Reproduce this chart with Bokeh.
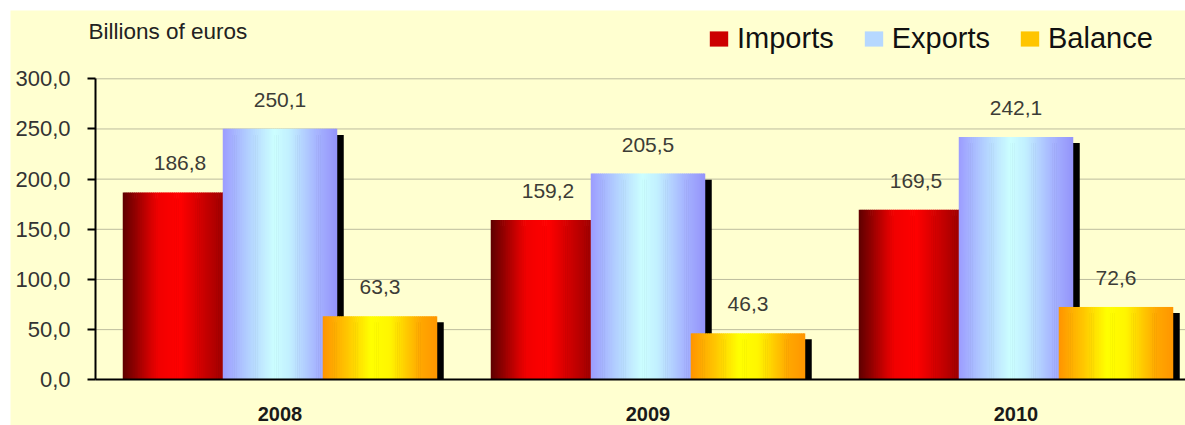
import numpy as np
from bokeh.plotting import figure
from bokeh.models import (Range1d, FixedTicker, ColumnDataSource, LabelSet,
                          Legend, LegendItem, Label)
from bokeh.core.properties import value
from bokeh.embed import file_html
from bokeh.resources import INLINE

# ---------------- data ----------------
years = ["2008", "2009", "2010"]
series_names = ["Imports", "Exports", "Balance"]
imports = [186.8, 159.2, 169.5]
exports = [250.1, 205.5, 242.1]
balance = [63.3, 46.3, 72.6]
y_ticks = [0, 50, 100, 150, 200, 250, 300]
y_tick_labels = ["0,0", "50,0", "100,0", "150,0", "200,0", "250,0", "300,0"]
unit_text = "Billions of euros"

# ---------------- style / layout ----------------
BG = "#FFFFD0"
ML, MT = 10, 10                  # white outer margin
FIG_W, FIG_H = 1185 - ML, 425 - MT
PX = 368.0                       # pixels per category
PY = 301.0 / 300.0               # pixels per unit
AXIS_X_PX, AXIS_Y_PX = 95, 379.3   # axis position in the picture
CAT0_PX = 279.5                  # centre of first category in the picture
BAR_W = 114.5 / PX
STEP = 100.0 / PX
SH_DX = 6.5 / PX
SH_DY = 6.0
N = 60

x_start = -(CAT0_PX - ML) / PX
x_end = x_start + FIG_W / PX
x_axis = -(CAT0_PX - AXIS_X_PX) / PX
y_start = -(425 - AXIS_Y_PX) / PY
y_end = y_start + FIG_H / PY

stops = {
    "Imports": [(0.0, "#5E0000"), (0.30, "#F00000"), (0.50, "#FF0000"),
                (0.87, "#A00000"), (1.0, "#900000")],
    "Exports": [(0.0, "#9C9CFF"), (0.22, "#B2D0FF"), (0.45, "#CCFFFF"),
                (0.58, "#C2F0FF"), (0.82, "#A6B4FF"), (1.0, "#9494FA")],
    "Balance": [(0.0, "#FF9400"), (0.22, "#FFC800"), (0.42, "#FFFF00"),
                (0.58, "#FFF600"), (0.85, "#FFA800"), (1.0, "#FF9600")],
}
legend_frac = {"Imports": 0.22, "Exports": 0.25, "Balance": 0.2}


def hex2rgb(h):
    h = h.lstrip("#")
    return np.array([int(h[i:i + 2], 16) for i in (0, 2, 4)], dtype=float)


def grad(st, t):
    for (t0, c0), (t1, c1) in zip(st[:-1], st[1:]):
        if t0 <= t <= t1:
            f = 0 if t1 == t0 else (t - t0) / (t1 - t0)
            c = hex2rgb(c0) * (1 - f) + hex2rgb(c1) * f
            return "#%02X%02X%02X" % tuple(int(round(v)) for v in c)
    return st[-1][1]


p = figure(width=FIG_W, height=FIG_H, x_range=Range1d(x_start, x_end),
           y_range=Range1d(y_start, y_end), output_backend="svg",
           toolbar_location=None, min_border_left=0, min_border_right=0,
           min_border_top=0, min_border_bottom=0,
           background_fill_color=BG, border_fill_color=BG)
p.margin = (MT, 0, 0, ML)
p.outline_line_color = None
p.xgrid.visible = False
p.ygrid.visible = False

# horizontal grid lines at the y ticks, from the axis to the right edge
gt = y_ticks[1:]
p.segment(x0=[x_axis] * len(gt), x1=[x_end] * len(gt), y0=gt, y1=gt,
          line_color="#BDBD9E", line_width=1)

series_vals = [imports, exports, balance]
renderers = {}
label_x, label_y, label_t = [], [], []
for si, (name, vals) in enumerate(zip(series_names, series_vals)):
    sh = dict(left=[], right=[], top=[], bottom=[])
    sl = dict(left=[], right=[], top=[], bottom=[], color=[])
    for ci, v in enumerate(vals):
        c = ci + (si - 1) * STEP
        l0 = c - BAR_W / 2
        sh["left"].append(l0 + SH_DX)
        sh["right"].append(l0 + BAR_W + SH_DX)
        sh["top"].append(v - SH_DY)
        sh["bottom"].append(0)
        dw = BAR_W / N
        for k in range(N):
            sl["left"].append(l0 + k * dw)
            sl["right"].append(l0 + (k + 1) * dw + (0.35 * dw if k < N - 1 else 0))
            sl["top"].append(v)
            sl["bottom"].append(0)
            sl["color"].append(grad(stops[name], (k + 0.5) / N))
        label_x.append(c)
        label_y.append(v)
        label_t.append(("%.1f" % v).replace(".", ","))
    p.quad(source=ColumnDataSource(sh), left="left", right="right", top="top",
           bottom="bottom", fill_color="#000000", line_color=None)
    renderers[name] = p.quad(source=ColumnDataSource(sl), left="left", right="right",
                             top="top", bottom="bottom", fill_color="color",
                             line_color=None)

# axes at fixed locations inside the frame
p.yaxis.fixed_location = x_axis
p.yaxis.bounds = (0, 300)
p.yaxis.ticker = FixedTicker(ticks=y_ticks)
p.yaxis.major_label_overrides = {t: s for t, s in zip(y_ticks, y_tick_labels)}
p.yaxis.axis_line_color = "black"
p.yaxis.axis_line_width = 2
p.yaxis.major_tick_line_color = "black"
p.yaxis.major_tick_line_width = 2
p.yaxis.major_tick_out = 8
p.yaxis.major_tick_in = 0
p.yaxis.minor_tick_line_color = None
p.yaxis.major_label_standoff = 17
p.yaxis.major_label_text_font = "Liberation Sans"
p.yaxis.major_label_text_font_size = "22px"
p.yaxis.major_label_text_color = "#333333"

p.xaxis.fixed_location = 0
p.xaxis.bounds = (x_axis, x_end)
p.xaxis.ticker = FixedTicker(ticks=[0, 1, 2])
p.xaxis.major_label_overrides = {i: y for i, y in enumerate(years)}
p.xaxis.axis_line_color = "black"
p.xaxis.axis_line_width = 2
p.xaxis.major_tick_line_color = None
p.xaxis.minor_tick_line_color = None
p.xaxis.major_tick_out = 0
p.xaxis.major_tick_in = 0
p.xaxis.major_label_standoff = 27
p.xaxis.major_label_text_font = "Liberation Sans"
p.xaxis.major_label_text_font_style = "bold"
p.xaxis.major_label_text_font_size = "20px"
p.xaxis.major_label_text_color = "#1A1A1A"

# value labels
labels = LabelSet(x="x", y="y", text="t", source=ColumnDataSource(
    dict(x=label_x, y=label_y, t=label_t)), y_offset=29, text_align="center",
    text_baseline="middle", text_font=value("Liberation Sans"),
    text_font_size=value("21px"), text_color="#3C3C36")
p.add_layout(labels)

# unit label
p.add_layout(Label(x=88 - ML, y=425 - 30.5, x_units="screen", y_units="screen",
                   text=unit_text, text_font="Liberation Sans",
                   text_font_size="22.5px", text_color="#222222",
                   text_baseline="middle", text_align="left"))

# legend
items = [LegendItem(label=n, renderers=[renderers[n]],
                    index=int(legend_frac[n] * N)) for n in series_names]
legend = Legend(items=items, orientation="horizontal",
                location=(707 - ML, 425 - 54.5),
                label_text_font="Liberation Sans", label_text_font_size="29px",
                label_text_color="#111111", glyph_width=23, glyph_height=19,
                label_standoff=7, spacing=28, padding=0, margin=0,
                border_line_color=None, background_fill_alpha=0)
p.add_layout(legend, "center")

open("out.html", "w").write(file_html(p, INLINE))
